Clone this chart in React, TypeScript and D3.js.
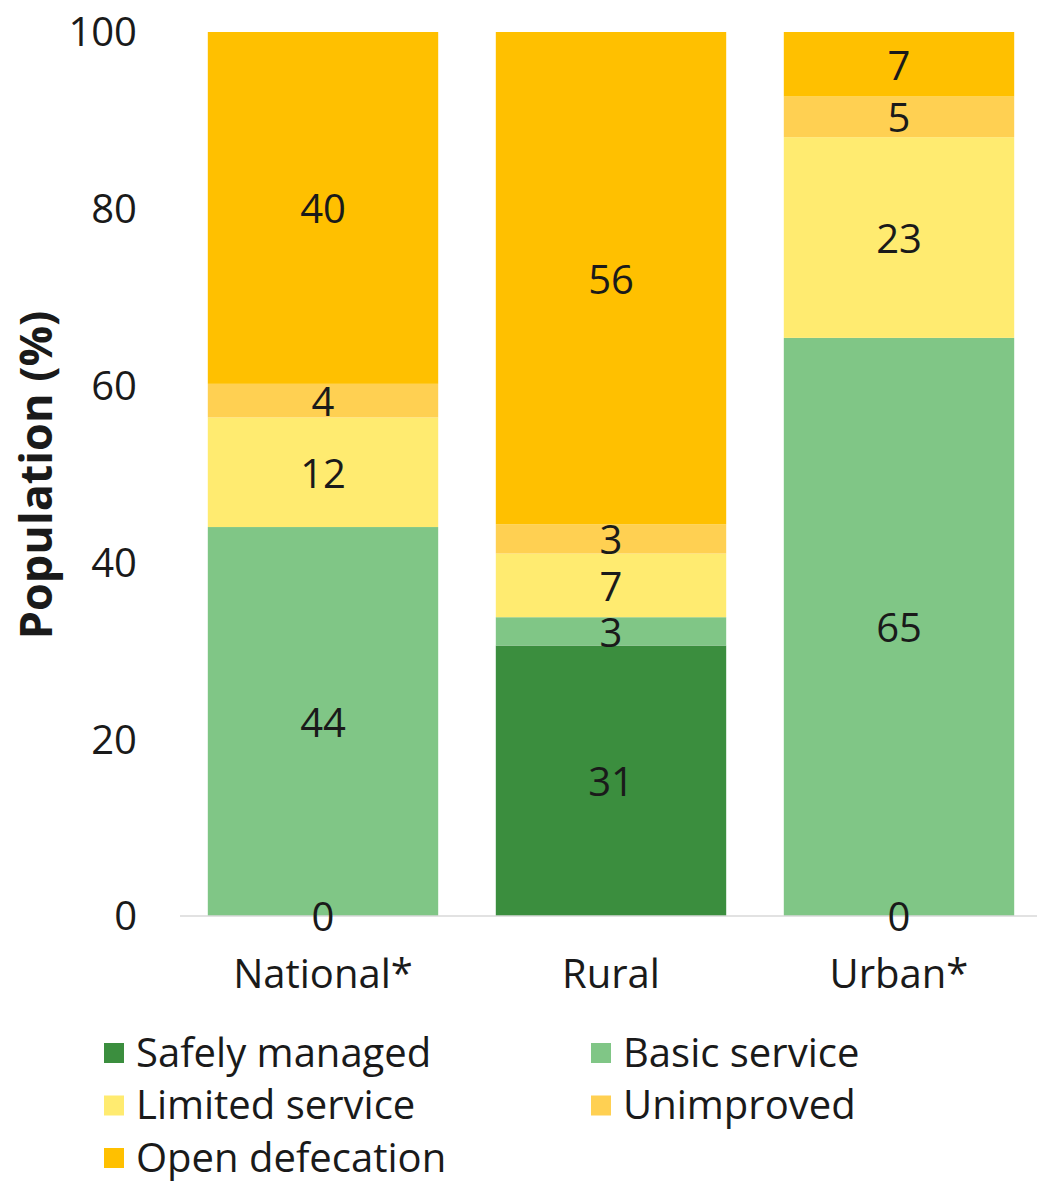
import React from "react";
import * as d3 from "d3";

// categories and series (percent of population)
const categories = ["National*", "Rural", "Urban*"];
const seriesNames = ["Safely managed", "Basic service", "Limited service", "Unimproved", "Open defecation"];
const safelyManaged = [0, 30.6, 0];
const basicService = [44.0, 3.2, 65.4];
const limitedService = [12.4, 7.2, 22.7];
const unimproved = [3.8, 3.3, 4.6];
const openDefecation = [39.8, 55.7, 7.3];
const seriesColors = ["#3b8e3e", "#80c686", "#ffeb70", "#ffd052", "#ffc000"];
const yTicks = [0, 20, 40, 60, 80, 100];

const W = 1037;
const H = 1181;
const FONT = "'Open Sans', 'Noto Sans', sans-serif";
const FS = 40;

export default function App() {
  const values = [safelyManaged, basicService, limitedService, unimproved, openDefecation];
  const rows = categories.map((c, i) => {
    const r: any = { cat: c };
    seriesNames.forEach((s, k) => (r[s] = values[k][i]));
    return r;
  });
  const stack = d3.stack<any>().keys(seriesNames);
  const data = stack(rows);

  const x = d3.scaleBand().domain(categories).range([179, 1043]).paddingInner(0.2).paddingOuter(0.1);
  const y = d3.scaleLinear().domain([0, 100]).range([916, 32]);
  const fmt = d3.format(".0f");

  // zero-valued "Safely managed" segments still carry a "0" label, like the source
  const showZero = (k: number, i: number) => k === 0 && values[k][i] === 0;

  return (
    <svg width={W} height={H} style={{ position: "absolute", left: 0, top: 0 }} fontFamily={FONT}>
      <rect width={W} height={H} fill="#fff" />
      {data.map((series, k) => (
        <g key={k}>
          {series.map((d, i) => {
            const v = values[k][i];
            if (v <= 0) return null;
            return (
              <rect
                key={i}
                x={x(categories[i])}
                width={x.bandwidth()}
                y={y(d[1])}
                height={y(d[0]) - y(d[1])}
                fill={seriesColors[k]}
              />
            );
          })}
        </g>
      ))}
      <line x1={180} x2={1043} y1={y(0)} y2={y(0)} stroke="#d9d9d9" strokeWidth={1.5} />
      {data.map((series, k) => (
        <g key={"l" + k}>
          {series.map((d, i) => {
            const v = values[k][i];
            if (v <= 0 && !showZero(k, i)) return null;
            return (
              <text
                key={i}
                x={(x(categories[i]) as number) + x.bandwidth() / 2}
                y={y((d[0] + d[1]) / 2) + 1}
                dy="0.36em"
                textAnchor="middle"
                fontSize={FS}
                fill="#1a1a1a"
              >
                {fmt(v)}
              </text>
            );
          })}
        </g>
      ))}
      {yTicks.map((t) => (
        <text key={t} x={137} y={y(t)} dy="0.36em" textAnchor="end" fontSize={FS} fill="#1a1a1a">
          {t}
        </text>
      ))}
      <text
        transform={`translate(52,${y(50) + 1}) rotate(-90)`}
        textAnchor="middle"
        fontSize={45}
        fontWeight="bold"
        fill="#1a1a1a"
      >
        Population (%)
      </text>
      {categories.map((c) => (
        <text
          key={c}
          x={(x(c) as number) + x.bandwidth() / 2}
          y={988}
          textAnchor="middle"
          fontSize={FS}
          fill="#1a1a1a"
        >
          {c}
        </text>
      ))}
      {seriesNames.map((s, k) => {
        const col = k % 2;
        const row = Math.floor(k / 2);
        const lx = col === 0 ? 104 : 591;
        const ly = 1053 + row * 52.5;
        return (
          <g key={s}>
            <rect x={lx} y={ly - 10} width={20} height={20} fill={seriesColors[k]} />
            <text x={lx + 32} y={ly} dy="0.34em" fontSize={FS} fill="#1a1a1a">
              {s}
            </text>
          </g>
        );
      })}
    </svg>
  );
}
